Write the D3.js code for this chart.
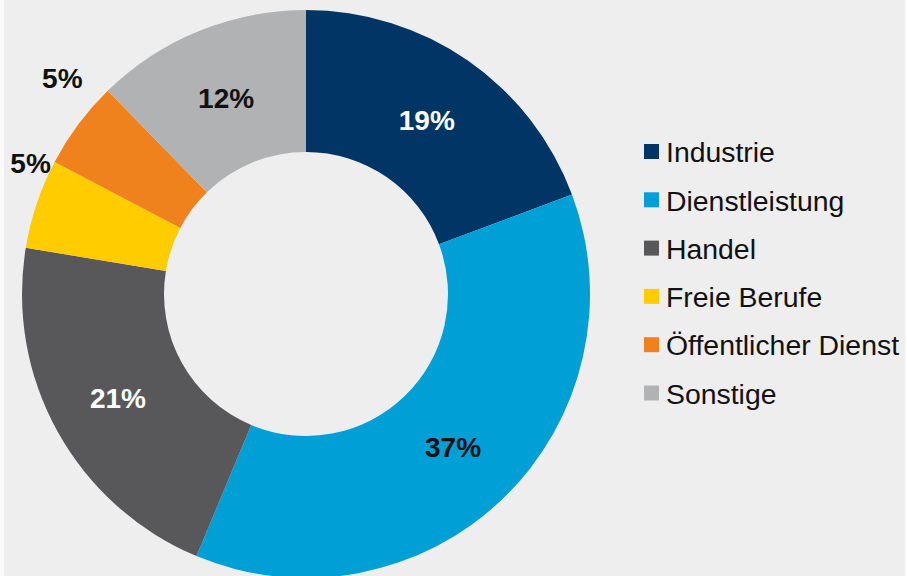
<!DOCTYPE html>
<html><head><meta charset="utf-8">
<script src="https://cdn.jsdelivr.net/npm/d3@7"></script>
<style>html,body{margin:0;padding:0;background:#fafafa;overflow:hidden}</style>
</head><body>
<svg id="c" width="907" height="576"></svg>
<script>
const categories = ["Industrie","Dienstleistung","Handel","Freie Berufe","Öffentlicher Dienst","Sonstige"];
const values = [19.3, 37.0, 21.3, 5.1, 5.0, 12.3];
const labels = ["19%","37%","21%","5%","5%","12%"];
const colors = ["#003565","#009fd5","#58585a","#ffcc00","#f0821e","#b1b2b4"];
const labelColors = ["#ffffff","#111111","#ffffff","#111111","#111111","#111111"];

const W = 907, H = 576;
const svg = d3.select("#c");
svg.append("rect").attr("x",4).attr("y",0).attr("width",W-6).attr("height",H).attr("fill","#eeeeee");

const cx = 306, cy = 294, R = 284, r = 142;
const g = svg.append("g").attr("transform",`translate(${cx},${cy})`);
const pie = d3.pie().sort(null).value(d=>d);
const arcs = pie(values);
const arc = d3.arc().innerRadius(r).outerRadius(R);
g.selectAll("path").data(arcs).join("path")
  .attr("d",arc).attr("fill",(d,i)=>colors[i]);

// label placement (radius from centre, angular shift in degrees)
const labelRadius = [212,212,215,305,326,212];
const labelShift = [0,0,0,6.9,4.9,0];
g.selectAll("text.lbl").data(arcs).join("text")
  .attr("class","lbl")
  .attr("transform",(d,i)=>{
    const a = (d.startAngle+d.endAngle)/2 + labelShift[i]*Math.PI/180;
    const rr = labelRadius[i];
    return `translate(${Math.sin(a)*rr},${-Math.cos(a)*rr})`;
  })
  .attr("text-anchor","middle").attr("dy","0.36em")
  .attr("font-family","'Liberation Sans', Arial, Helvetica, sans-serif")
  .attr("font-weight","bold").attr("font-size",28)
  .attr("fill",(d,i)=>labelColors[i])
  .text((d,i)=>labels[i]);

// legend
const lg = svg.append("g").attr("transform","translate(644,152)");
const rowH = 48.3;
const items = lg.selectAll("g").data(categories).join("g")
  .attr("transform",(d,i)=>`translate(0,${i*rowH})`);
items.append("rect").attr("x",0).attr("y",-8).attr("width",15).attr("height",15)
  .attr("fill",(d,i)=>colors[i]);
items.append("text").attr("x",22).attr("y",0).attr("dy","0.36em")
  .attr("font-family","'Liberation Sans', Arial, Helvetica, sans-serif")
  .attr("font-size",28.4).attr("fill","#111111")
  .text(d=>d);
</script>
</body></html>
